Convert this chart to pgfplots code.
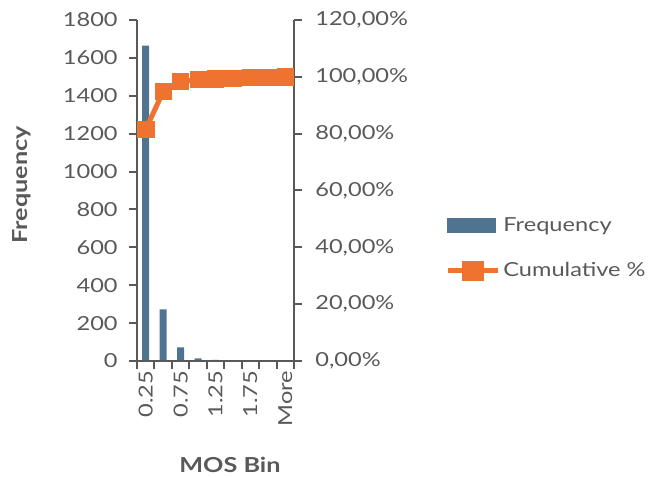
\documentclass[border=0pt]{standalone}
\usepackage{fontspec}
\setmainfont{Lato}[FakeStretch=1.22]
\usepackage{pgfplots}
\usepackage{pgfplotstable}
\pgfplotsset{compat=1.18}

\definecolor{barblue}{HTML}{4E7491}
\definecolor{cumorange}{HTML}{EF7330}
\definecolor{axgray}{HTML}{595959}

\newcommand\chartfont{\fontsize{14.5}{17}\selectfont}
\newcommand\titlefont{\fontsize{15.5}{18}\selectfont\bfseries}

% MOS histogram: bin index, frequency, cumulative percentage
\pgfplotstableread{
x freq cum
0 1665 81.50
1 272  94.81
2 72   98.34
3 14   99.02
4 6    99.31
5 5    99.56
6 4    99.76
7 3    99.90
8 2    100.00
}\mosdata

\pgfplotsset{
  /pgf/number format/assume math mode=true,
  /pgf/number format/1000 sep={},
  mosbase/.style={
    scale only axis, width=117.75pt, height=255.75pt,
    xmin=-0.5, xmax=8.5,
    tick align=outside,
    major tick length=6pt,
    every tick/.style={axgray, line width=1.5pt},
    axis line style={axgray, line width=1.5pt},
    tick label style={font=\chartfont, text=axgray},
    label style={font=\titlefont, text=axgray},
  },
}

\begin{document}
\begin{tikzpicture}
\begin{axis}[
  mosbase, name=ax, axis on top,
  ymin=0, ymax=1800,
  axis y line*=left, axis x line*=bottom,
  ytick={0,200,...,1800},
  yticklabel style={xshift=-5pt},
  xtick={-0.5,0.5,1.5,2.5,3.5,4.5,5.5,6.5,7.5,8.5},
  xticklabels={},
  extra x ticks={0,2,4,6,8},
  extra x tick labels={0.25,0.75,1.25,1.75,More},
  % rotated labels: xshift acts along the text, i.e. downwards
  extra x tick style={major tick length=0pt, xticklabel style={rotate=90, anchor=east, xshift=-4pt}},
  xlabel={MOS Bin},
  xlabel style={at={(axis description cs:0.592,0)}, anchor=center, yshift=-78pt},
  ylabel={Frequency},
  ylabel style={at={(axis description cs:-0.7325,0.516)}, anchor=center},
]
\addplot[ybar, bar width=0.4, fill=barblue, draw=none] table[x=x, y=freq]{\mosdata};
\end{axis}

\begin{axis}[
  mosbase,
  ymin=0, ymax=120,
  axis y line*=right, axis x line=none,
  ytick={0,20,...,120},
  yticklabel style={xshift=6.5pt},
  yticklabel={\pgfmathprintnumber[fixed, fixed zerofill, precision=2, use comma]{\tick}\%},
  legend style={draw=none, fill=none, at={(axis description cs:1.935,0.331)}, anchor=west,
    font=\chartfont, text=axgray, row sep=18pt,
    nodes={inner sep=2pt}},
  legend cell align=left,
]
\addlegendimage{legend image code/.code={\fill[barblue] (0pt,-5.25pt) rectangle (36pt,5.25pt);}}
\addlegendentry{Frequency}
\addplot[cumorange, line width=3.75pt, mark=square*, mark size=6.1pt,
  mark options={line width=0.5pt},
  legend image code/.code={%
    \draw[cumorange, line width=3.75pt] (0pt,0pt) -- (38pt,0pt);
    \fill[cumorange] (12.5pt,-5.5pt) rectangle (25.5pt,5.5pt);}]
  table[x=x, y=cum]{\mosdata};
\addlegendentry{Cumulative \%}
\end{axis}

\pgfresetboundingbox
\path[use as bounding box] ([shift={(-102.75pt,-87.75pt)}]ax.south west) rectangle ([shift={(393pt,270.75pt)}]ax.south west);
\end{tikzpicture}
\end{document}
